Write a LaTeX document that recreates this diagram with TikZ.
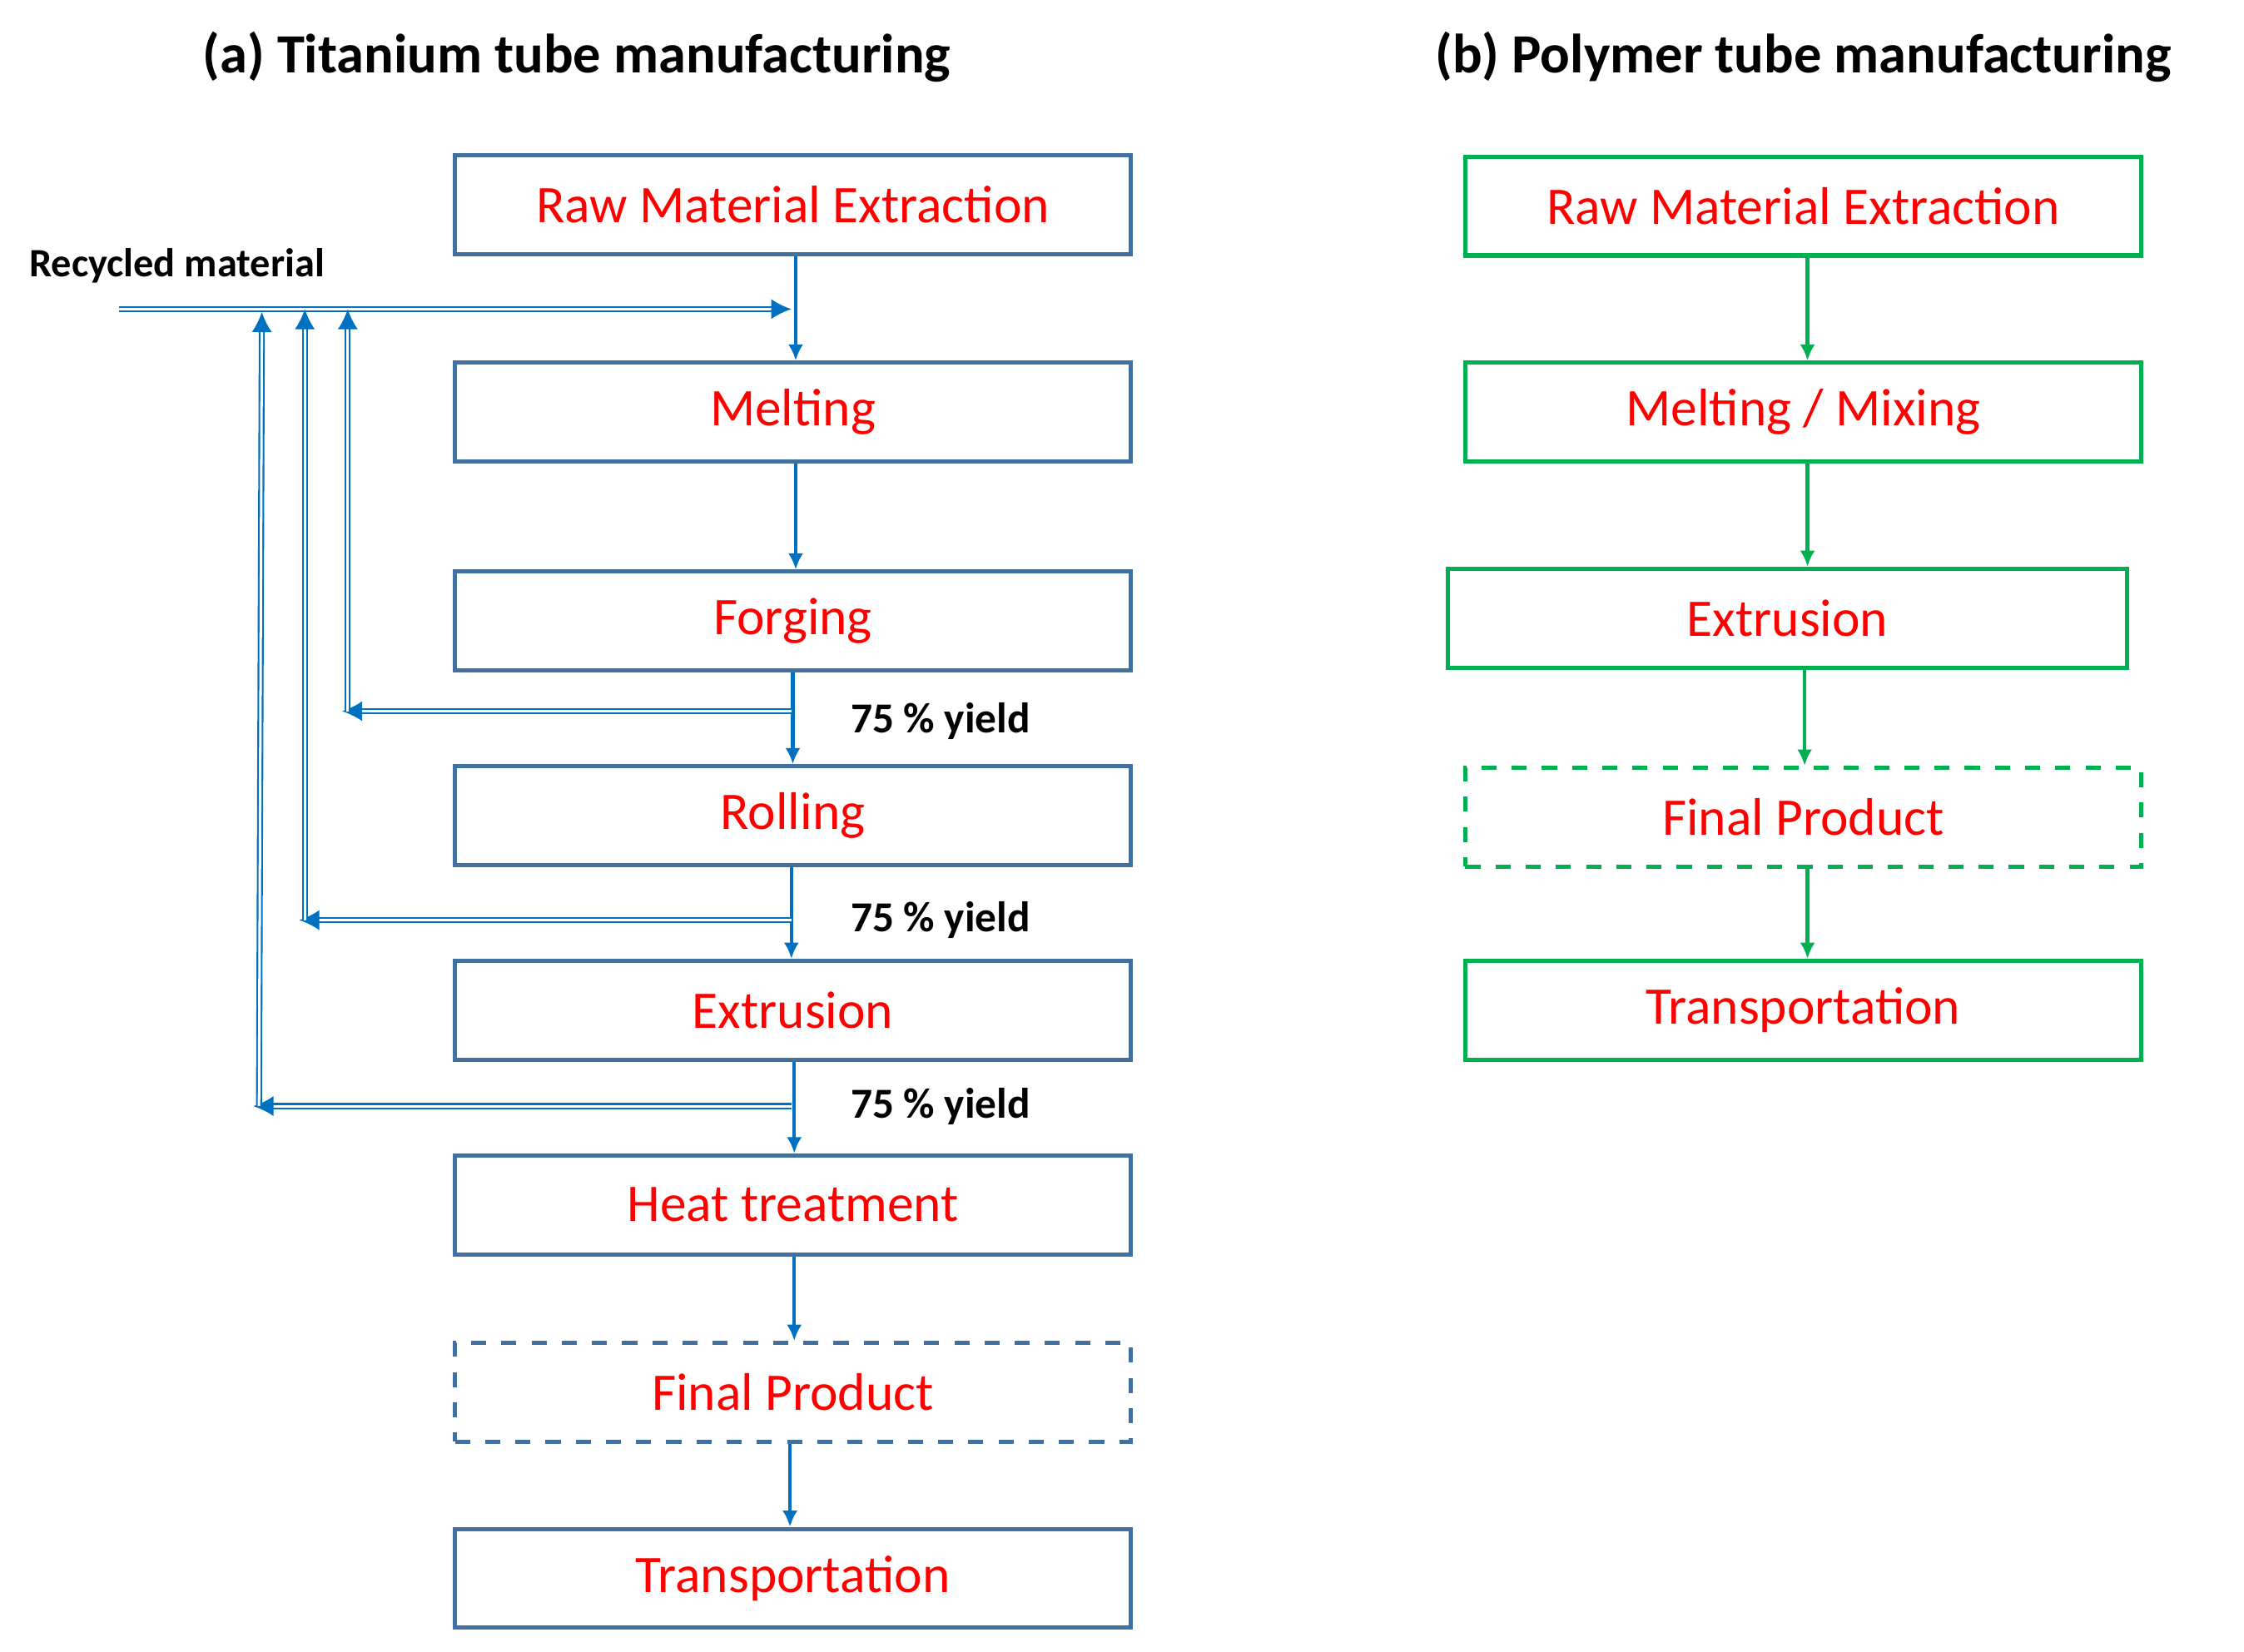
\documentclass[tikz,border=0pt]{standalone}
\usepackage{fontspec}
\setmainfont{Carlito}
\usetikzlibrary{arrows.meta}
\definecolor{arr}{RGB}{0,112,192}
\definecolor{bx}{RGB}{65,113,156}
\definecolor{gr}{RGB}{0,176,80}
\definecolor{tx}{RGB}{255,0,0}
\tikzset{
 tbox/.style={draw=bx,line width=0.85pt,minimum width=4.72cm,minimum height=0.69cm,text=tx,font=\fontsize{10.5}{12}\selectfont,inner sep=0pt},
 gbox/.style={tbox,draw=gr},
 flow/.style={draw=arr,line width=0.7pt,-{Latex[length=3.2pt,width=3pt]}},
 gflow/.style={draw=gr,line width=0.7pt,-{Latex[length=3.2pt,width=3pt]}},
 rec/.style={draw=arr,line width=0.35pt,double=white,double distance=0.5pt,-{Latex[length=4pt,width=4pt]}},
 ylab/.style={anchor=west,font=\bfseries\fontsize{8.5}{10}\selectfont},
 ttl/.style={font=\bfseries\fontsize{11}{13}\selectfont}
}
\begin{document}
\begin{tikzpicture}[x=0.01cm,y=-0.01cm]
\useasboundingbox (0,0) rectangle (1568,1154);
\node[ttl] (ta) at (403,40) {(a) Titanium tube manufacturing};
\node[ttl] (tb) at (1260,40) {(b) Polymer tube manufacturing};
% (a)
\node[tbox] (a1) at (554,143) {Raw Material Extraction};
\node[tbox] (a2) at (554,288) {Melting};
\node[tbox] (a3) at (554,434) {Forging};
\node[tbox] (a4) at (554,570) {Rolling};
\node[tbox] (a5) at (554,706) {Extrusion};
\node[tbox] (a6) at (554,842) {Heat treatment};
\node[tbox,dashed] (a7) at (554,973) {Final Product};
\node[tbox] (a8) at (554,1103) {Transportation};
\draw[flow] (a1.south -| 556,0) -- (a2.north -| 556,0);
\draw[flow] (a2.south -| 556,0) -- (a3.north -| 556,0);
\draw[flow] (a3.south -| 554,0) -- (a4.north -| 554,0);
\draw[flow] (a4.south -| 553,0) -- (a5.north -| 553,0);
\draw[flow] (a5.south -| 555,0) -- (a6.north -| 555,0);
\draw[flow] (a6.south -| 555,0) -- (a7.north -| 555,0);
\draw[flow] (a7.south -| 552,0) -- (a8.north -| 552,0);
\node[ylab] (y1) at (582,504) {75 \% yield};
\node[ylab] (y2) at (582,643) {75 \% yield};
\node[ylab] (y3) at (582,773) {75 \% yield};
\node[anchor=west,font=\bfseries\fontsize{8}{10}\selectfont] (rm) at (8,186) {Recycled material};
\coordinate (rs) at (83,216);
\coordinate (rj) at (553,216);
\draw[rec] (rs) -- (rj);
\coordinate (f1) at (553,497); \coordinate (c1) at (239,497); \coordinate (u1) at (243,216);
\coordinate (f2) at (553,643); \coordinate (c2) at (209,643); \coordinate (u2) at (213,216);
\coordinate (f3) at (553,773); \coordinate (c3) at (177,773); \coordinate (u3) at (183,218);
\draw[rec] (f1) -- (c1);
\draw[rec] (c1 -| u1) -- (u1);
\draw[rec] (f2) -- (c2);
\draw[rec] (c2 -| u2) -- (u2);
\draw[rec] (f3) -- (c3);
\draw[rec] (c3 -| 181,0) -- (u3);
% (b)
\node[gbox] (b1) at (1260,144) {Raw Material Extraction};
\node[gbox] (b2) at (1260,288) {Melting / Mixing};
\node[gbox,minimum width=4.74cm] (b3) at (1249,432) {Extrusion};
\node[gbox,dashed] (b4) at (1260,571) {Final Product};
\node[gbox] (b5) at (1260,706) {Transportation};
\draw[gflow] (b1.south -| 1263,0) -- (b2.north -| 1263,0);
\draw[gflow] (b2.south -| 1263,0) -- (b3.north -| 1263,0);
\draw[gflow] (b3.south -| 1261,0) -- (b4.north -| 1261,0);
\draw[gflow] (b4.south -| 1263,0) -- (b5.north -| 1263,0);
\end{tikzpicture}
\end{document}
